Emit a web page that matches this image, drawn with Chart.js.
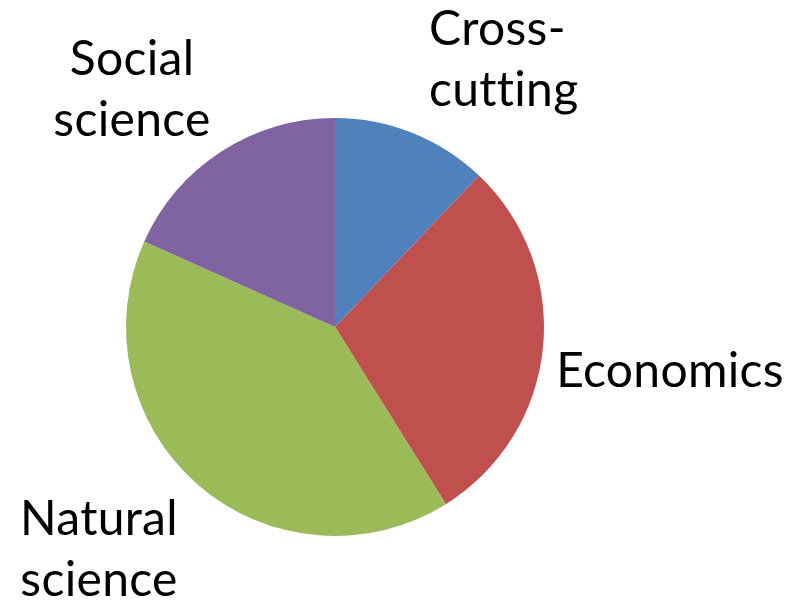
<!DOCTYPE html>
<html>
<head>
<meta charset="utf-8">
<script src="https://cdn.jsdelivr.net/npm/chart.js@4/dist/chart.umd.min.js"></script>
<style>
  html, body { margin: 0; padding: 0; background: #ffffff; }
  #wrap { width: 805px; height: 602px; position: relative; }
</style>
</head>
<body>
<div id="wrap"><canvas id="chart"></canvas></div>
<script>
// Research areas, clockwise from 12 o'clock
const categories = ['Cross-cutting', 'Economics', 'Natural science', 'Social science'];
const shares = [12.1, 29.0, 40.6, 18.3];
const sliceColors = ['#4F81BD', '#C0504D', '#9BBB59', '#8064A2'];
// label text as it wraps in the picture
const labelLines = [['Cross-', 'cutting'], ['Economics'], ['Natural', 'science'], ['Social', 'science']];

// Draw the wrapped category labels around the pie, relative to its centre
const outsideLabels = {
    id: 'outsideLabels',
    afterDatasetsDraw(chart) {
        const ctx = chart.ctx;
        const arcs = chart.getDatasetMeta(0).data;
        // [dx, dy of first baseline, align] from the pie centre
        const place = [[94, -282, 'left'], [335, 60, 'center'], [-236, 208, 'center'], [-203, -252, 'center']];
        const lh = 61;
        ctx.save();
        ctx.font = '48px Lato, "Liberation Sans", sans-serif';
        // a tiny spacing keeps Lato from joining "tt" into a ligature
        ctx.letterSpacing = '0.3px';
        ctx.fillStyle = '#000000';
        ctx.textBaseline = 'alphabetic';
        arcs.forEach((arc, i) => {
            const [dx, dy, align] = place[i];
            ctx.textAlign = align;
            labelLines[i].forEach((t, j) => {
                ctx.fillText(t, arc.x + dx, arc.y + dy + j * lh);
            });
        });
        ctx.restore();
    }
};

new Chart(document.getElementById('chart'), {
    type: 'pie',
    data: {
        labels: categories,
        datasets: [{
            data: shares,
            backgroundColor: sliceColors,
            borderWidth: 0,
        }],
    },
    options: {
        responsive: true,
        maintainAspectRatio: false,
        animation: false,
        layout: { padding: { left: 126, right: 261, top: 118, bottom: 66 } },
        plugins: {
            legend: { display: false },
            tooltip: { enabled: false },
        },
    },
    plugins: [outsideLabels],
});
</script>
</body>
</html>
